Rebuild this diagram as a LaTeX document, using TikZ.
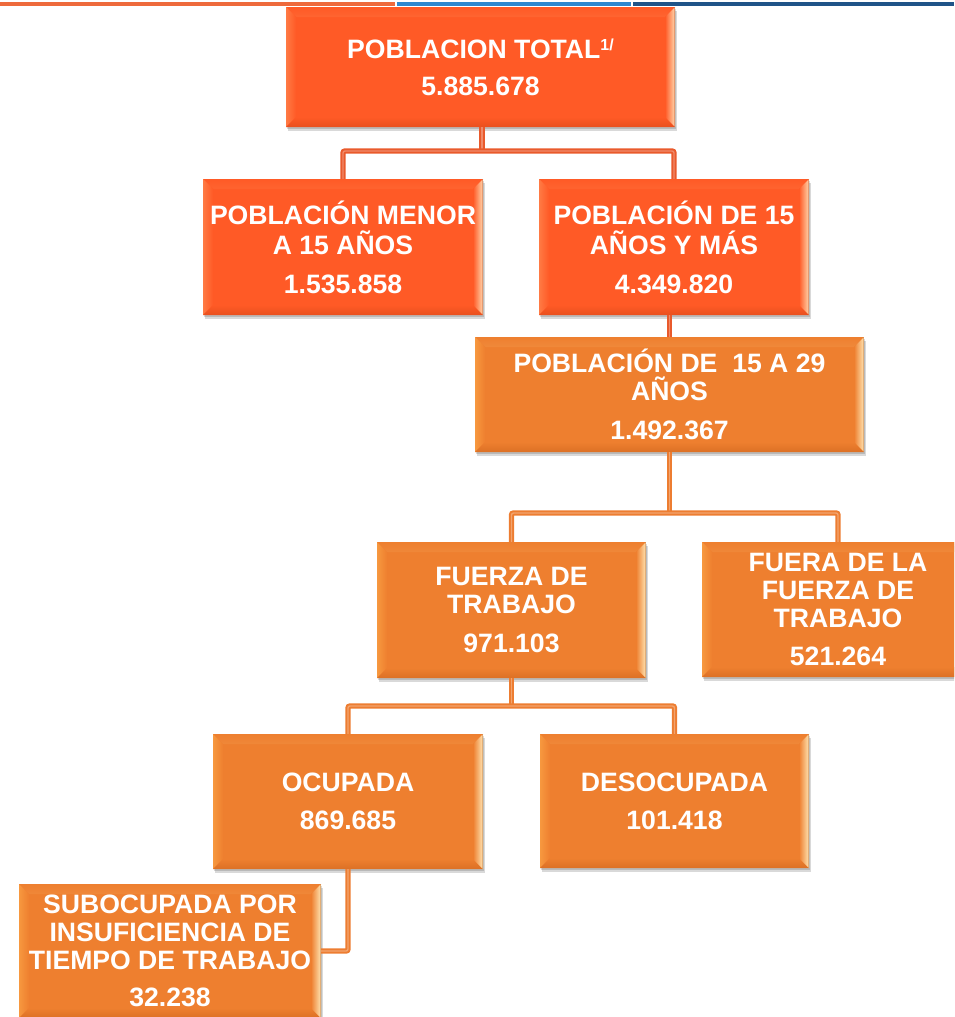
\documentclass[tikz,border=0pt]{standalone}
\usepackage{fontspec}
\setmainfont{Liberation Sans}
\usetikzlibrary{calc,shadows}
\definecolor{redbase}{HTML}{FF5A26}
\definecolor{redL}{HTML}{FF9A66}
\definecolor{redM}{HTML}{FF7A44}
\definecolor{redD}{HTML}{E9501E}
\definecolor{redY}{HTML}{FFD8AE}
\definecolor{orbase}{HTML}{EE7F2F}
\definecolor{orL}{HTML}{F8B870}
\definecolor{orM}{HTML}{F7983F}
\definecolor{orD}{HTML}{DC7025}
\definecolor{orY}{HTML}{FFE6B4}
\definecolor{redline}{HTML}{E95A2C}
\definecolor{orline}{HTML}{ED7D31}
\definecolor{barO}{HTML}{EE6A3C}
\definecolor{barB}{HTML}{2E88CE}
\definecolor{barD}{HTML}{1F5488}
\newcommand{\bevelpaint}[1]{%
 \shade[top color=#1base, bottom color=#1base, middle color=#1L]
   (path picture bounding box.north west) -- (path picture bounding box.north east)
   -- ([shift={(-10pt,-10pt)}]path picture bounding box.north east)
   -- ([shift={(10pt,-10pt)}]path picture bounding box.north west) -- cycle;
 \shade[left color=#1M, right color=#1base]
   (path picture bounding box.north west) -- ([shift={(10pt,-10pt)}]path picture bounding box.north west)
   -- ([shift={(10pt,10pt)}]path picture bounding box.south west) -- (path picture bounding box.south west) -- cycle;
 \shade[top color=#1base, bottom color=#1D]
   (path picture bounding box.south west) -- ([shift={(10pt,10pt)}]path picture bounding box.south west)
   -- ([shift={(-10pt,10pt)}]path picture bounding box.south east) -- (path picture bounding box.south east) -- cycle;
 \shade[left color=#1base, right color=#1Y]
   (path picture bounding box.north east) -- (path picture bounding box.south east)
   -- ([shift={(-10pt,10pt)}]path picture bounding box.south east)
   -- ([shift={(-10pt,-10pt)}]path picture bounding box.north east) -- cycle;
 \fill[#1D!80!black, opacity=0.35] ([shift={(-1pt,0pt)}]path picture bounding box.north east) rectangle (path picture bounding box.south east);
}
\tikzset{
  box/.style={rectangle, inner sep=0pt, align=center, text=white,
    font=\bfseries\fontsize{26.6}{28}\selectfont,
    drop shadow={shadow xshift=2pt, shadow yshift=-4pt, opacity=0.15, fill=black},
    drop shadow={shadow xshift=1pt, shadow yshift=-2pt, opacity=0.15, fill=black}},
  redbox/.style={box, fill=redbase, path picture={\bevelpaint{red}}},
  orbox/.style={box, fill=orbase, path picture={\bevelpaint{or}}},
  conn/.style={draw=#1, line width=2pt, double=#1!70!white, double distance=1.4pt, rounded corners=2pt},
}
\begin{document}
\begin{tikzpicture}[x=1pt,y=-1pt]
\useasboundingbox (0,0) rectangle (954,1017);
\clip (0,0) rectangle (954,1017);
% top bars
\fill[barO] (0,1.5) rectangle (395,6);
\fill[barB] (397,1.5) rectangle (631,6);
\fill[barD] (633,1.5) rectangle (954,6);
% boxes
\node[redbox, minimum width=389pt, minimum height=120pt] (top) at (480.5,67)
  {POBLACION TOTAL{\fontsize{16}{16}\selectfont\raisebox{8pt}{1/}}\\[9pt]5.885.678};
\node[redbox, minimum width=280pt, minimum height=136pt] (menor) at (343,247)
  {POBLACIÓN MENOR\\[2pt]A 15 AÑOS\\[11pt]1.535.858};
\node[redbox, minimum width=270pt, minimum height=136pt] (mas15) at (674,247)
  {POBLACIÓN DE 15\\[2pt]AÑOS Y MÁS\\[11pt]4.349.820};
\node[orbox, minimum width=389pt, minimum height=115pt] (joven) at (669.5,394.5)
  {POBLACIÓN DE \ 15 A 29\\AÑOS\\[11pt]1.492.367};
\node[orbox, minimum width=269pt, minimum height=136pt] (fuerza) at (511.5,610)
  {FUERZA DE\\TRABAJO\\[11pt]971.103};
\node[orbox, minimum width=272pt, minimum height=135pt] (fuera) at (838,609.5)
  {FUERA DE LA\\FUERZA DE\\TRABAJO\\[10pt]521.264};
\node[orbox, minimum width=270pt, minimum height=135pt] (ocupada) at (348,801.5)
  {OCUPADA\\[10pt]869.685};
\node[orbox, minimum width=269pt, minimum height=134pt] (desocupada) at (674.5,801)
  {DESOCUPADA\\[10pt]101.418};
\node[orbox, minimum width=302pt, minimum height=134pt] (sub) at (170,951)
  {SUBOCUPADA POR\\INSUFICIENCIA DE\\TIEMPO DE TRABAJO\\[9pt]32.238};
% connectors
\coordinate (j1) at (482,151);
\coordinate (j2) at (669.5,513);
\coordinate (j3) at (511.5,706);
\draw[conn=redline] (top.south -| j1) -- (j1);
\draw[conn=redline] (menor.north) |- (j1) -| (mas15.north);
\draw[conn=redline] (mas15.south -| joven.north) -- (joven.north);
\draw[conn=orline] (joven.south) -- (j2);
\draw[conn=orline] (fuerza.north) |- (j2) -| (fuera.north);
\draw[conn=orline] (fuerza.south) -- (j3);
\draw[conn=orline] (ocupada.north) |- (j3) -| (desocupada.north);
\draw[conn=orline] (ocupada.south) |- (sub.east);
\end{tikzpicture}
\end{document}
